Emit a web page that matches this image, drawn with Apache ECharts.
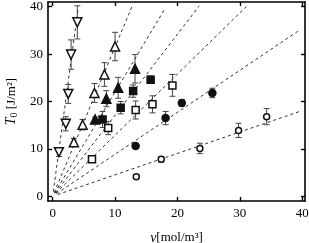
<!DOCTYPE html>
<html><head><meta charset="utf-8">
<script src="https://cdn.jsdelivr.net/npm/echarts@6/dist/echarts.min.js"></script>
<style>html,body{margin:0;padding:0;background:#fff}#c{width:309px;height:243px}</style>
</head><body><div id="c"></div>
<script>
// Data
const xTicks = [0, 10, 20, 30, 40];
const yTicks = [0, 10, 20, 30, 40];

const nuDownOpen = [1.0, 2.1, 2.5, 2.95, 3.95];
const tDownOpen  = [9.3, 15.3, 21.6, 29.9, 36.7];
const eDownOpen  = [0.9, 1.5, 2.0, 3.1, 3.5];

const nuUpOpen = [3.4, 4.8, 6.7, 8.3, 10.0];
const tUpOpen  = [11.4, 15.1, 21.8, 25.7, 31.6];
const eUpOpen  = [0.8, 1.1, 2.0, 2.5, 3.0];

const nuUpFill = [6.8, 8.6, 10.5, 13.2];
const tUpFill  = [16.2, 20.6, 22.9, 26.9];
const eUpFill  = [0.5, 1.7, 2.2, 3.0];

const nuSqFill = [8.0, 10.9, 12.9, 15.7];
const tSqFill  = [16.2, 18.7, 22.2, 24.6];
const eSqFill  = [1.7, 1.3, 1.3, 0.8];

const nuSqOpen = [6.3, 8.9, 13.3, 16.0, 19.2];
const tSqOpen  = [7.8, 14.4, 18.2, 19.4, 23.4];
const eSqOpen  = [0.5, 1.4, 1.9, 1.8, 2.3];

const nuCircFill = [13.3, 18.1, 20.7, 25.6];
const tCircFill  = [10.6, 16.5, 19.7, 21.8];
const eCircFill  = [0.5, 1.4, 0.7, 1.0];

const nuCircOpen = [13.4, 17.4, 23.6, 29.8, 34.3];
const tCircOpen  = [4.1, 7.8, 10.1, 13.9, 16.8];
const eCircOpen  = [0.4, 0.6, 1.1, 1.5, 1.7];

// fitted dashed lines T = k * nu
const fitSlopes = [9.7, 3.15, 2.2, 1.71, 1.29, 0.886, 0.452];
const fitStartNu = [0.1, 0.25, 0.3, 0.4, 0.5, 0.6, 0.8];
const fitEndNu = [4.1, 12.7, 17.95, 23.5, 31.1, 39.7, 39.7];

const FONT = 'Liberation Serif';
const INK = '#111';

function errSeries(nu, t, e) {
  return {
    type: 'custom', z: 3, silent: true,
    encode: { x: 0, y: [1, 2] },
    data: nu.map((v, i) => [v, t[i] - e[i], t[i] + e[i]]),
    renderItem: function (params, api) {
      const x = api.value(0), lo = api.value(1), hi = api.value(2);
      const a = api.coord([x, hi]), b = api.coord([x, lo]);
      const w = 3;
      const st = { stroke: '#444', lineWidth: 1 };
      return { type: 'group', children: [
        { type: 'line', shape: { x1: a[0], y1: a[1], x2: b[0], y2: b[1] }, style: st },
        { type: 'line', shape: { x1: a[0] - w, y1: a[1], x2: a[0] + w, y2: a[1] }, style: st },
        { type: 'line', shape: { x1: b[0] - w, y1: b[1], x2: b[0] + w, y2: b[1] }, style: st }
      ]};
    }
  };
}

function markSeries(nu, t, symbol, size, filled, rotate) {
  return {
    type: 'scatter', z: 5, silent: true,
    symbol: symbol, symbolSize: size, symbolRotate: rotate || 0,
    itemStyle: { color: filled ? INK : '#fff', borderColor: INK, borderWidth: 1.5, opacity: 1 },
    data: nu.map((v, i) => [v, t[i]])
  };
}

const series = [];
fitSlopes.forEach((k, i) => {
  series.push({
    type: 'line', z: 2, silent: true, symbol: 'none',
    lineStyle: { color: '#333', width: 1, type: [3, 3] },
    data: [[fitStartNu[i], k * fitStartNu[i]], [fitEndNu[i], k * fitEndNu[i]]]
  });
});
[[nuDownOpen, tDownOpen, eDownOpen], [nuUpOpen, tUpOpen, eUpOpen], [nuUpFill, tUpFill, eUpFill],
 [nuSqFill, tSqFill, eSqFill], [nuSqOpen, tSqOpen, eSqOpen], [nuCircFill, tCircFill, eCircFill],
 [nuCircOpen, tCircOpen, eCircOpen]].forEach(d => series.push(errSeries(d[0], d[1], d[2])));

series.push(markSeries(nuDownOpen, tDownOpen, 'triangle', 9, false, 180));
series.push(markSeries(nuUpOpen, tUpOpen, 'triangle', 9, false, 0));
series.push(markSeries(nuUpFill, tUpFill, 'triangle', 9, true, 0));
series.push(markSeries(nuSqFill, tSqFill, 'rect', 7, true, 0));
series.push(markSeries(nuSqOpen, tSqOpen, 'rect', 7, false, 0));
series.push(markSeries(nuCircFill, tCircFill, 'circle', 7, true, 0));
series.push(markSeries(nuCircOpen, tCircOpen, 'circle', 6, false, 0));

const axLine = { show: true, onZero: false, lineStyle: { color: '#000', width: 1.6 } };
const tick = (vals) => ({ show: true, inside: true, length: 4, customValues: vals, lineStyle: { color: '#000', width: 1.4 } });
const lab = (vals, m) => ({ show: true, customValues: vals, fontFamily: FONT, fontSize: 13, color: '#000', margin: m });

const chart = echarts.init(document.getElementById('c'), null, { renderer: 'canvas' });
chart.setOption({
  animation: false,
  backgroundColor: '#fff',
  grid: { left: 48, right: 4, top: 2, bottom: 42, containLabel: false, outerBoundsMode: 'none' },
  xAxis: [
    { type: 'value', min: -0.75, max: 40.45, position: 'bottom',
      axisLine: axLine, axisTick: tick(xTicks), axisLabel: lab(xTicks, 6), splitLine: { show: false },
      name: '{i|ν}{n|[mol/m³]}', nameLocation: 'middle', nameGap: 30,
      nameTextStyle: { rich: {
        i: { fontFamily: FONT, fontStyle: 'italic', fontSize: 14, color: '#000' },
        n: { fontFamily: FONT, fontSize: 13, color: '#000' } } } },
    { type: 'value', min: -0.75, max: 40.45, position: 'top',
      axisLine: axLine, axisTick: tick(xTicks), axisLabel: { show: false }, splitLine: { show: false } }
  ],
  yAxis: [
    { type: 'value', min: -1, max: 41, position: 'left',
      axisLine: axLine, axisTick: tick(yTicks), axisLabel: lab(yTicks, 5), splitLine: { show: false },
      name: '{i|T}{s|0}{n| [J/m²]}', nameLocation: 'middle', nameGap: 28, nameRotate: 90,
      nameTextStyle: { rich: {
        i: { fontFamily: FONT, fontStyle: 'italic', fontSize: 14, color: '#000' },
        s: { fontFamily: FONT, fontSize: 10, color: '#000', padding: [6, 0, 0, 0] },
        n: { fontFamily: FONT, fontSize: 13, color: '#000' } } } },
    { type: 'value', min: -1, max: 41, position: 'right',
      axisLine: axLine, axisTick: tick(yTicks), axisLabel: { show: false }, splitLine: { show: false } }
  ],
  series: series
});
</script>
</body></html>
